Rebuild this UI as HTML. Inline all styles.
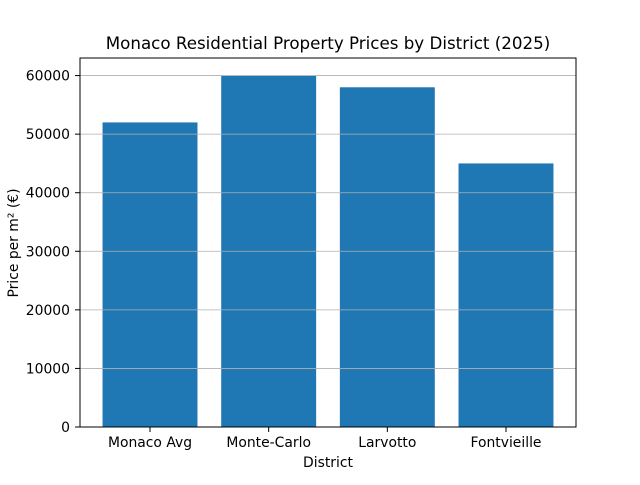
<!DOCTYPE html>
<html><head><meta charset="utf-8"><style>
body{margin:0;background:#fff}
svg text{font-family:"DejaVu Sans","Liberation Sans",sans-serif;fill:#000}
</style></head><body>
<svg id="chart" width="640" height="480" xmlns="http://www.w3.org/2000/svg">
<rect width="640" height="480" fill="#fff"/>
<text x="328" y="49" font-size="16.7" text-anchor="middle">Monaco Residential Property Prices by District (2025)</text>
<g id="bars"></g><g id="grid"></g><g id="ticks"></g>
<rect x="80" y="58" width="496" height="369" fill="none" stroke="#000" stroke-width="1"/>
<text x="328" y="467" font-size="13.9" text-anchor="middle">District</text>
<text transform="translate(18,243) rotate(-90)" font-size="13.9" text-anchor="middle">Price per m² (€)</text>
</svg>
<script>
const categories=["Monaco Avg","Monte-Carlo","Larvotto","Fontvieille"];
const values=[52000,60000,58000,45000];
const yTicks=[0,10000,20000,30000,40000,50000,60000];
const L=80,R=576,T=58,B=427,yMax=63000,xMin=-0.59,xMax=3.59;
const ns="http://www.w3.org/2000/svg";
const y=v=>B-(v/yMax)*(B-T);
const x=i=>L+(i-xMin)/(xMax-xMin)*(R-L);
const bw=0.8*(R-L)/(xMax-xMin);
const bars=document.getElementById('bars'),grid=document.getElementById('grid'),ticks=document.getElementById('ticks');
function mk(t,a,p){const e=document.createElementNS(ns,t);for(const k in a)e.setAttribute(k,a[k]);p.appendChild(e);return e;}
categories.forEach((c,i)=>{
  const r=mk('rect',{x:x(i)-bw/2,y:y(values[i]),width:bw,height:B-y(values[i]),fill:'#1f77b4'},bars);
  
  
  mk('line',{x1:x(i),x2:x(i),y1:B,y2:B+5,stroke:'#000'},ticks);
  const t=mk('text',{x:x(i),y:B+20,'font-size':13.9,'text-anchor':'middle'},ticks);
  t.textContent=c;
  
  
});
yTicks.forEach(v=>{
  const g=mk('line',{x1:L,x2:R,y1:y(v),y2:y(v),stroke:'#b0b0b0','stroke-width':0.8},grid);
  
  
  mk('line',{x1:L-5,x2:L,y1:y(v),y2:y(v),stroke:'#000'},ticks);
  const t=mk('text',{x:L-10,y:y(v)+5,'font-size':13.9,'text-anchor':'end'},ticks);
  t.textContent=v;
  
  
});
</script>
</body></html>
